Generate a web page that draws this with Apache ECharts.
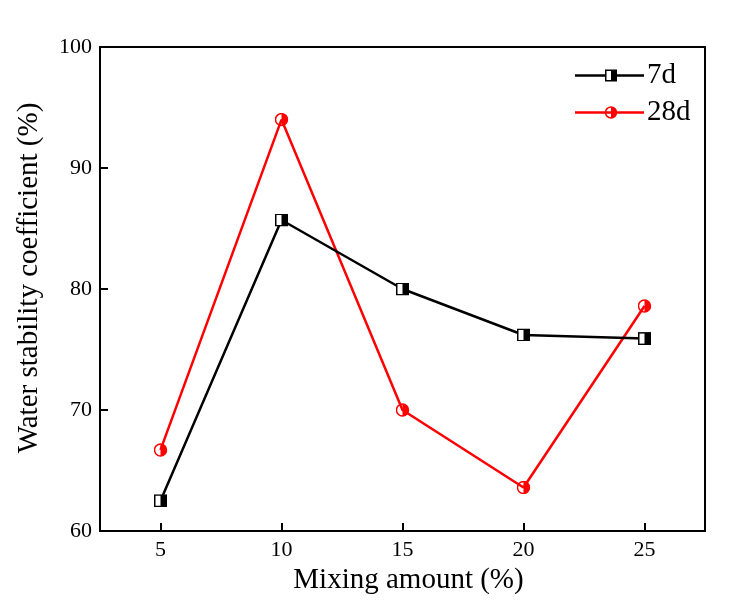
<!DOCTYPE html>
<html>
<head>
<meta charset="utf-8">
<script src="https://cdn.jsdelivr.net/npm/echarts@6/dist/echarts.min.js"></script>
<style>html,body{margin:0;padding:0;background:#fff}#c{width:734px;height:606px}</style>
</head>
<body>
<div id="c"></div>
<script>
const mixing = [5, 10, 15, 20, 25];
const d7 = [62.5, 85.7, 80.0, 76.2, 75.9];
const d28 = [66.7, 94.0, 70.0, 63.6, 78.6];
const xTicks = [5, 10, 15, 20, 25];
const yTicks = [60, 70, 80, 90, 100];

const sqShape = (cx, cy) => `<rect x='${cx-5.25}' y='${cy-5.25}' width='10.5' height='10.5' fill='white' stroke='black' stroke-width='1.5'/><rect x='${cx}' y='${cy-5.25}' width='5.25' height='10.5' fill='black'/>`;
const ciShape = (cx, cy) => `<path d='M${cx} ${cy-5.5} A5.5 5.5 0 0 1 ${cx} ${cy+5.5} Z' fill='red'/><circle cx='${cx}' cy='${cy}' r='5.5' fill='none' stroke='red' stroke-width='1.5'/>`;
const svgUri = (w, h, body) => 'image://data:image/svg+xml;charset=utf-8,' + encodeURIComponent(`<svg xmlns='http://www.w3.org/2000/svg' width='${w}' height='${h}' viewBox='0 0 ${w} ${h}'>${body}</svg>`);
const sqSym = svgUri(13, 13, "<rect x='0.75' y='0.75' width='11.5' height='11.5' fill='white' stroke='black' stroke-width='1.5'/><rect x='6.5' y='0.75' width='5.75' height='11.5' fill='black'/>");
const ciSym = svgUri(14, 14, "<path d='M7 1 A6 6 0 0 1 7 13 Z' fill='red'/><circle cx='7' cy='7' r='6' fill='none' stroke='red' stroke-width='1.5'/>");
const sqLeg = svgUri(69, 14, "<line x1='0' y1='7' x2='69' y2='7' stroke='black' stroke-width='2.5'/>" + sqShape(36, 7));
const ciLeg = svgUri(69, 14, "<line x1='0' y1='7' x2='69' y2='7' stroke='red' stroke-width='2.5'/>" + ciShape(36, 7));

const font = 'Liberation Serif';
const chart = echarts.init(document.getElementById('c'), null, {renderer: 'canvas'});
chart.setOption({
  backgroundColor: '#fff',
  animation: false,
  grid: {left: 100, right: 29, top: 47, bottom: 75, show: true, borderColor: '#000', borderWidth: 2, backgroundColor: 'transparent'},
  legend: {
    left: 575, top: 61, orient: 'vertical', itemWidth: 69, itemHeight: 14, itemGap: 8,
    padding: 0,
    textStyle: {fontFamily: font, fontSize: 29, color: '#000', padding: [0, 0, 0, -2]},
    data: [{name: '7d', icon: sqLeg}, {name: '28d', icon: ciLeg}]
  },
  xAxis: {
    type: 'value', min: 2.5, max: 27.5,
    name: 'Mixing amount (%)', nameLocation: 'middle', nameGap: 31,
    nameTextStyle: {fontFamily: font, fontSize: 29, color: '#000', padding: [0, 0, 0, 12]},
    axisLine: {show: true, lineStyle: {color: '#000', width: 2}},
    axisTick: {show: true, inside: true, length: 8, lineStyle: {color: '#000', width: 2}, customValues: xTicks},
    axisLabel: {fontFamily: font, fontSize: 22, color: '#000', margin: 8, customValues: xTicks},
    splitLine: {show: false}
  },
  yAxis: {
    type: 'value', min: 60, max: 100, interval: 10,
    name: 'Water stability coefficient (%)', nameLocation: 'middle', nameGap: 56,
    nameTextStyle: {fontFamily: font, fontSize: 29, color: '#000', padding: [0, 0, 0, 22]},
    axisLine: {show: true, lineStyle: {color: '#000', width: 2}},
    axisTick: {show: true, inside: true, length: 8, lineStyle: {color: '#000', width: 2}},
    axisLabel: {fontFamily: font, fontSize: 22, color: '#000', margin: 8,
      formatter: v => yTicks.includes(v) ? String(v) : ''},
    splitLine: {show: false}
  },
  series: [
    {name: '7d', type: 'line', data: mixing.map((x, i) => [x, d7[i]]),
     symbol: sqSym, symbolSize: 13, lineStyle: {color: '#000', width: 2.5},
     itemStyle: {color: '#000'}, z: 3},
    {name: '28d', type: 'line', data: mixing.map((x, i) => [x, d28[i]]),
     symbol: ciSym, symbolSize: 14, lineStyle: {color: 'red', width: 2.5},
     itemStyle: {color: 'red'}, z: 2}
  ]
});
</script>
</body>
</html>
